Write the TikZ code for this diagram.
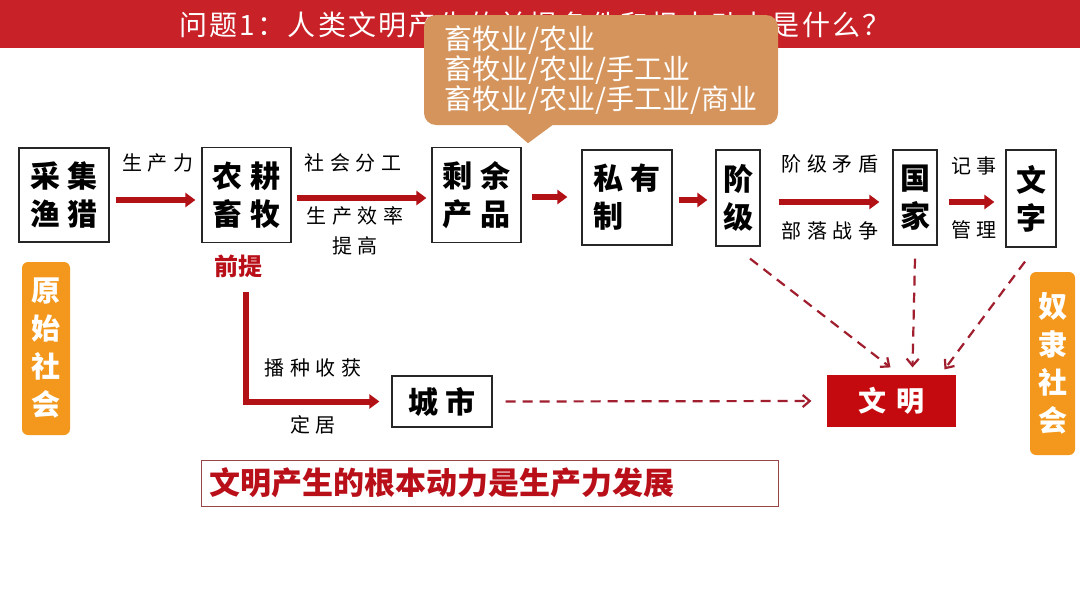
\documentclass[tikz,border=0pt]{standalone}
\usepackage{fontspec}
\setmainfont{Noto Sans CJK SC}
\newfontfamily\titlef[LetterSpace=8]{Noto Sans CJK SC}
\newfontfamily\boxf[LetterSpace=25]{Noto Sans CJK SC}
\newfontfamily\lblf[LetterSpace=28]{Noto Sans CJK SC}
\newfontfamily\wmf[LetterSpace=35]{Noto Sans CJK SC}
\newfontfamily\plainf{Noto Sans CJK SC}
\usetikzlibrary{arrows.meta}
\definecolor{titlered}{RGB}{200,34,40}
\definecolor{calloutc}{RGB}{212,148,92}
\definecolor{arrowred}{RGB}{178,18,22}
\definecolor{dashred}{RGB}{160,30,45}
\definecolor{orangec}{RGB}{243,152,28}
\definecolor{wmred}{RGB}{196,10,14}
\definecolor{textred}{RGB}{185,15,25}
\definecolor{stmtborder}{RGB}{150,70,70}
\begin{document}
\begin{tikzpicture}[x=1pt,y=-1pt,
  box/.style={draw=black!85, line width=1.2pt, fill=white, inner sep=0pt, align=center,
    font=\boxf\bfseries\fontsize{30}{38}\selectfont},
  lbl/.style={inner sep=0pt, align=center, font=\lblf\fontsize{20}{30}\selectfont},
  flow/.style={draw=arrowred, line width=6pt, -{Triangle[length=10pt,width=14pt]}},
  dflow/.style={draw=dashred, line width=2.2pt, dash pattern=on 10pt off 7pt,
    -{Straight Barb[length=7pt,width=12pt]}},
  era/.style={fill=orangec, rounded corners=6pt, text=white, align=center, inner sep=0pt,
    font=\plainf\bfseries\fontsize{29}{38}\selectfont}
]
\fill[white] (0,0) rectangle (1080,608);
\useasboundingbox (0,0) rectangle (1080,608);

% title bar
\fill[titlered] (0,0) rectangle (1080,48);
\node[text=white, inner sep=0pt, font=\titlef\fontsize{28}{30}\selectfont] (title) at (535,25)
  {问题1：人类文明产生的前提条件和根本动力是什么？};

% callout
\node[fill=calloutc, rounded corners=12pt, minimum width=354pt, minimum height=110pt,
  align=left, text=white, inner sep=0pt, font=\plainf\fontsize{28}{30}\selectfont] (callout) at (601,70)
  {畜牧业/农业\\畜牧业/农业/手工业\\畜牧业/农业/手工业/商业};
\fill[calloutc] ([shift={(-96,-2)}]callout.south) -- ([shift={(-73,18)}]callout.south)
  -- ([shift={(-46,-2)}]callout.south) -- cycle;

% boxes
\node[box, minimum width=90pt, minimum height=94pt] (caiji) at (64,195) {采集\\渔猎};
\node[box, minimum width=89pt, minimum height=95pt] (nonggeng) at (246.5,195) {农耕\\畜牧};
\node[box, minimum width=89pt, minimum height=95pt] (shengyu) at (476.5,195) {剩余\\产品};
\node[box, minimum width=90pt, minimum height=95pt, align=left] (siyou) at (627,197.5) {私有\\制};
\node[box, minimum width=44pt, minimum height=96pt] (jieji) at (738,198) {阶\\级};
\node[box, minimum width=44pt, minimum height=95pt] (guojia) at (915,197.5) {国\\家};
\node[box, minimum width=50pt, minimum height=97pt] (wenzi) at (1031,198.5) {文\\字};
\node[box, minimum width=100pt, minimum height=51pt] (city) at (442,401.5) {城市};
\node[box, fill=wmred, draw=wmred, text=white, minimum width=127pt, minimum height=50pt,
  font=\wmf\bfseries\fontsize{28}{30}\selectfont] (wm) at (891.5,401) {文明};

% era labels
\node[era, minimum width=48pt, minimum height=173pt] (yuanshi) at (46,348.5) {原\\始\\社\\会};
\node[era, minimum width=45pt, minimum height=183pt] (nuli) at (1052.5,363.5) {奴\\隶\\社\\会};

% labels
\node[lbl] (l1) at (158,163) {生产力};
\node[lbl] (l2) at (353,163) {社会分工};
\node[lbl] (l3) at (355,231) {生产效率\\提高};
\node[lbl] (l4) at (830,164) {阶级矛盾};
\node[lbl] (l5) at (830,231) {部落战争};
\node[lbl] (l6) at (974,166) {记事};
\node[lbl] (l7) at (974,230) {管理};
\node[lbl] (l8) at (313,368) {播种收获};
\node[lbl] (l9) at (313,425) {定居};
\node[inner sep=0pt, text=textred, font=\plainf\bfseries\fontsize{24}{24}\selectfont] (qianti) at (238,266) {前提};

% statement
\node[draw=stmtborder, line width=1pt, minimum width=577pt, minimum height=46pt, inner sep=0pt,
  text width=560pt, align=left, text=textred, font=\plainf\bfseries\fontsize{31}{31}\selectfont]
  (stmt) at (489.5,483) {文明产生的根本动力是生产力发展};

% solid flow arrows
\draw[flow, shorten <=6pt, shorten >=6pt] ([yshift=-5pt]caiji.east) -- ([yshift=-5pt]nonggeng.west);
\draw[flow, shorten <=5pt, shorten >=5pt] ([yshift=-3pt]nonggeng.east) -- ([yshift=-3pt]shengyu.west);
\draw[flow, shorten <=10pt, shorten >=14pt] ([yshift=-2pt]shengyu.east) -- ([yshift=0.5pt]siyou.west);
\draw[flow, shorten <=6pt, shorten >=8pt] ([yshift=-2.5pt]siyou.east) -- ([yshift=-2pt]jieji.west);
\draw[flow, shorten <=18pt, shorten >=13pt] ([yshift=-4pt]jieji.east) -- ([yshift=-4.5pt]guojia.west);
\draw[flow, shorten <=11pt, shorten >=11pt] ([yshift=-4.5pt]guojia.east) -- ([yshift=-3.5pt]wenzi.west);

\coordinate (lstart) at (246,292);
\draw[flow, line join=miter] (lstart) |- ([xshift=-12pt]city.west);

% dashed arrows
\draw[dflow] ([shift={(12,12)}]jieji.south) -- ([shift={(-1,-8)}]wm.north);
\draw[dflow] ([shift={(0,13)}]guojia.south) -- ([shift={(21,-8)}]wm.north);
\draw[dflow] ([shift={(-6,14)}]wenzi.south) -- ([shift={(53,-6)}]wm.north);
\draw[dflow] ([xshift=13pt]city.east) -- ([xshift=-16pt]wm.west);
\end{tikzpicture}
\end{document}
